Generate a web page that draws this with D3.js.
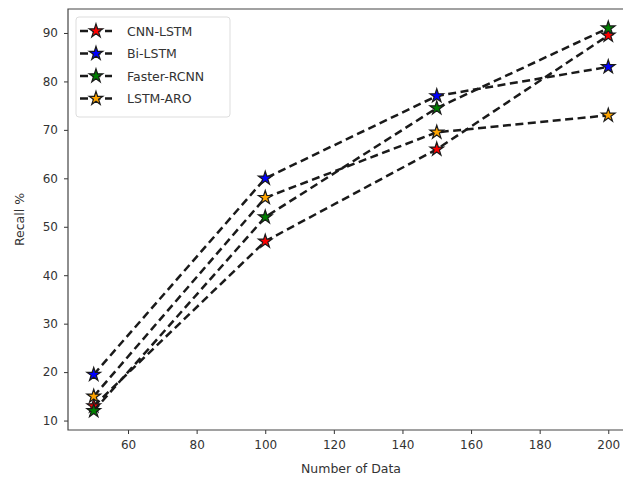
<!DOCTYPE html>
<html>
<head>
<meta charset="utf-8">
<script src="https://cdn.jsdelivr.net/npm/d3@7"></script>
<style>
  body { margin: 0; background: #fff; overflow: hidden; }
  text { font-family: "DejaVu Sans", sans-serif; fill: #333; }
</style>
</head>
<body>
<script>
var w = 623, h = 481;

// data
var xValues = [50, 100, 150, 200];
var seriesNames = ["CNN-LSTM", "Bi-LSTM", "Faster-RCNN", "LSTM-ARO"];
var seriesColors = ["#ff0000", "#0000ff", "#008000", "#ffa500"];
var cnnLstm = [13, 47, 66, 89.5];
var biLstm = [19.5, 60, 77, 83];
var fasterRcnn = [12, 52, 74.5, 91];
var lstmAro = [15, 56, 69.5, 73];
var xTicks = [60, 80, 100, 120, 140, 160, 180, 200];
var yTicks = [10, 20, 30, 40, 50, 60, 70, 80, 90];

var series = [cnnLstm, biLstm, fasterRcnn, lstmAro];

// plot box (right edge runs past the picture, as in the reference)
var padL = 68, padR = 634, padT = 9, padB = 430;

var svg = d3.select("body").append("svg").attr("width", w).attr("height", h);

var xScale = d3.scaleLinear().domain([42.5, 207.5]).range([padL, padR]);
var yScale = d3.scaleLinear().domain([8.05, 94.95]).range([padB, padT]);

// axes
var xAxis = d3.axisBottom(xScale).tickValues(xTicks).tickSize(4).tickPadding(6).tickFormat(d3.format("d"));
var gx = svg.append("g").attr("transform", "translate(0," + padB + ")").call(xAxis);
var yAxis = d3.axisLeft(yScale).tickValues(yTicks).tickSize(4).tickPadding(6).tickFormat(d3.format("d"));
var gy = svg.append("g").attr("transform", "translate(" + padL + ",0)").call(yAxis);
[gx, gy].forEach(function (g) {
  g.select(".domain").remove();
  g.selectAll("line").attr("stroke", "#333");
  g.selectAll("text").style("font-size", "12px").style("fill", "#333");
});

// spines: left, top, bottom (right one is outside the picture)
svg.append("path")
  .attr("d", "M" + w + "," + padT + "H" + padL + "V" + padB + "H" + w)
  .attr("fill", "none").attr("stroke", "#444").attr("stroke-width", 1.2);

// labels
svg.append("text").attr("x", (padL + padR) / 2).attr("y", 473)
  .attr("text-anchor", "middle").style("font-size", "12.5px").text("Number of Data");
svg.append("text").attr("transform", "translate(24," + (padT + padB) / 2 + ") rotate(-90)")
  .attr("text-anchor", "middle").style("font-size", "12.5px").text("Recall %");

var line = d3.line()
  .x(function (d, i) { return xScale(xValues[i]); })
  .y(function (d) { return yScale(d); });

var star = d3.symbol().type(d3.symbolStar).size(58);

series.forEach(function (vals, k) {
  svg.append("path").datum(vals).attr("d", line)
    .attr("fill", "none").attr("stroke", "#1a1a1a").attr("stroke-width", 2.5)
    .attr("stroke-dasharray", "8,4.5");
  svg.selectAll(".m" + k).data(vals).enter().append("path")
    .attr("class", "m" + k)
    .attr("transform", function (d, i) { return "translate(" + xScale(xValues[i]) + "," + yScale(d) + ")"; })
    .attr("d", star)
    .attr("fill", seriesColors[k]).attr("stroke", "#1a1a1a").attr("stroke-width", 1.2);
});

// legend
var lg = svg.append("g").attr("transform", "translate(76,17)");
lg.append("rect").attr("width", 154).attr("height", 100).attr("rx", 3)
  .attr("fill", "#fff").attr("fill-opacity", 0.85).attr("stroke", "#ddd");
seriesNames.forEach(function (name, k) {
  var yy = 14 + k * 22.5;
  lg.append("line").attr("x1", 4).attr("x2", 36).attr("y1", yy).attr("y2", yy)
    .attr("stroke", "#1a1a1a").attr("stroke-width", 2.5).attr("stroke-dasharray", "8,4.5");
  lg.append("path").attr("transform", "translate(20," + yy + ")").attr("d", star)
    .attr("fill", seriesColors[k]).attr("stroke", "#1a1a1a").attr("stroke-width", 1.2);
  lg.append("text").attr("x", 51).attr("y", yy + 4.5).style("font-size", "12.5px").text(name);
});
</script>
</body>
</html>
